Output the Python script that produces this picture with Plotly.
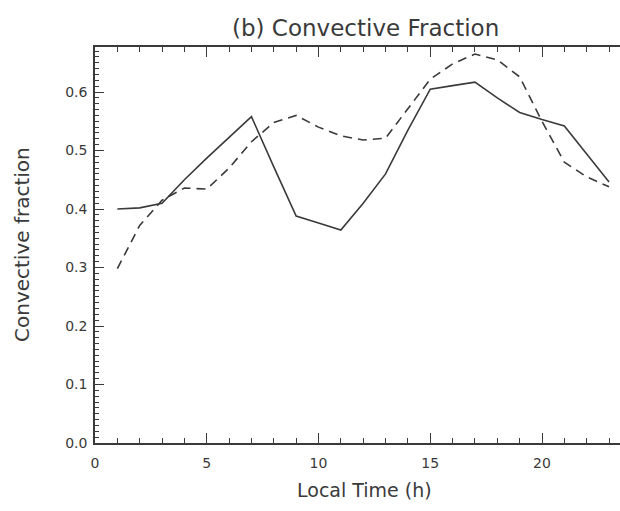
import plotly.graph_objects as go

hours = [1, 2, 3, 4, 5, 6, 7, 8, 9, 10, 11, 12, 13, 14, 15, 16, 17, 18, 19, 20, 21, 22, 23]
solid_vals = [0.400, 0.402, 0.410, 0.450, 0.487, 0.523, 0.558, 0.472, 0.388, 0.376, 0.364,
              0.410, 0.460, 0.535, 0.605, 0.611, 0.617, 0.590, 0.565, 0.553, 0.542, 0.494, 0.446]
dashed_vals = [0.298, 0.372, 0.415, 0.436, 0.434, 0.470, 0.515, 0.548, 0.560, 0.540, 0.525,
               0.518, 0.521, 0.572, 0.622, 0.648, 0.665, 0.655, 0.626, 0.550, 0.480, 0.455, 0.438]
x_ticks = [0, 5, 10, 15, 20]
y_ticks = [0.0, 0.1, 0.2, 0.3, 0.4, 0.5, 0.6]

ink = "#3a3a3a"
font = "DejaVu Sans, Liberation Sans, sans-serif"

fig = go.Figure()
fig.add_trace(go.Scatter(x=hours, y=solid_vals, mode="lines",
                         line=dict(color=ink, width=1.6), showlegend=False))
fig.add_trace(go.Scatter(x=hours, y=dashed_vals, mode="lines",
                         line=dict(color=ink, width=1.6, dash="9px,6px"), showlegend=False))

fig.update_layout(
    width=620, height=511,
    margin=dict(l=95, r=0, t=47, b=68),
    paper_bgcolor="white", plot_bgcolor="white",
    font=dict(family=font, color=ink, size=14),
    xaxis=dict(range=[0, 23.49], tickvals=x_ticks, ticks="inside", ticklen=10, tickwidth=1.2,
               tickcolor=ink, showline=True, linecolor=ink, linewidth=1.5, mirror="ticks",
               showgrid=False, zeroline=False, ticklabelstandoff=6,
               tickfont=dict(size=14, color=ink, family=font),
               minor=dict(dtick=1, ticks="inside", ticklen=5, tickcolor=ink, showgrid=False)),
    yaxis=dict(range=[0, 0.677], tickvals=y_ticks, tickformat=".1f", ticks="inside", ticklen=9,
               tickwidth=1.2, tickcolor=ink, showline=True, linecolor=ink, linewidth=1.5,
               mirror=False, showgrid=False, zeroline=False, ticklabelstandoff=3,
               tickfont=dict(size=14, color=ink, family=font),
               minor=dict(dtick=0.01, ticks="inside", ticklen=4, tickcolor=ink, showgrid=False)),
    annotations=[
        dict(text="(b) Convective Fraction", xref="paper", yref="paper",
             x=(365 - 95) / 525, y=1.0, yshift=19, xanchor="center", yanchor="middle",
             showarrow=False, font=dict(size=23, color=ink, family=font)),
        dict(text="Local Time (h)", xref="paper", yref="paper",
             x=(364 - 95) / 525, y=0, yshift=-47, xanchor="center", yanchor="middle",
             showarrow=False, font=dict(size=19, color=ink, family=font)),
        dict(text="Convective fraction", xref="paper", yref="paper",
             x=0, xshift=-73, y=0.5, xanchor="center", yanchor="middle", textangle=-90,
             showarrow=False, font=dict(size=20, color=ink, family=font)),
    ],
)

fig.write_html("out.html")
